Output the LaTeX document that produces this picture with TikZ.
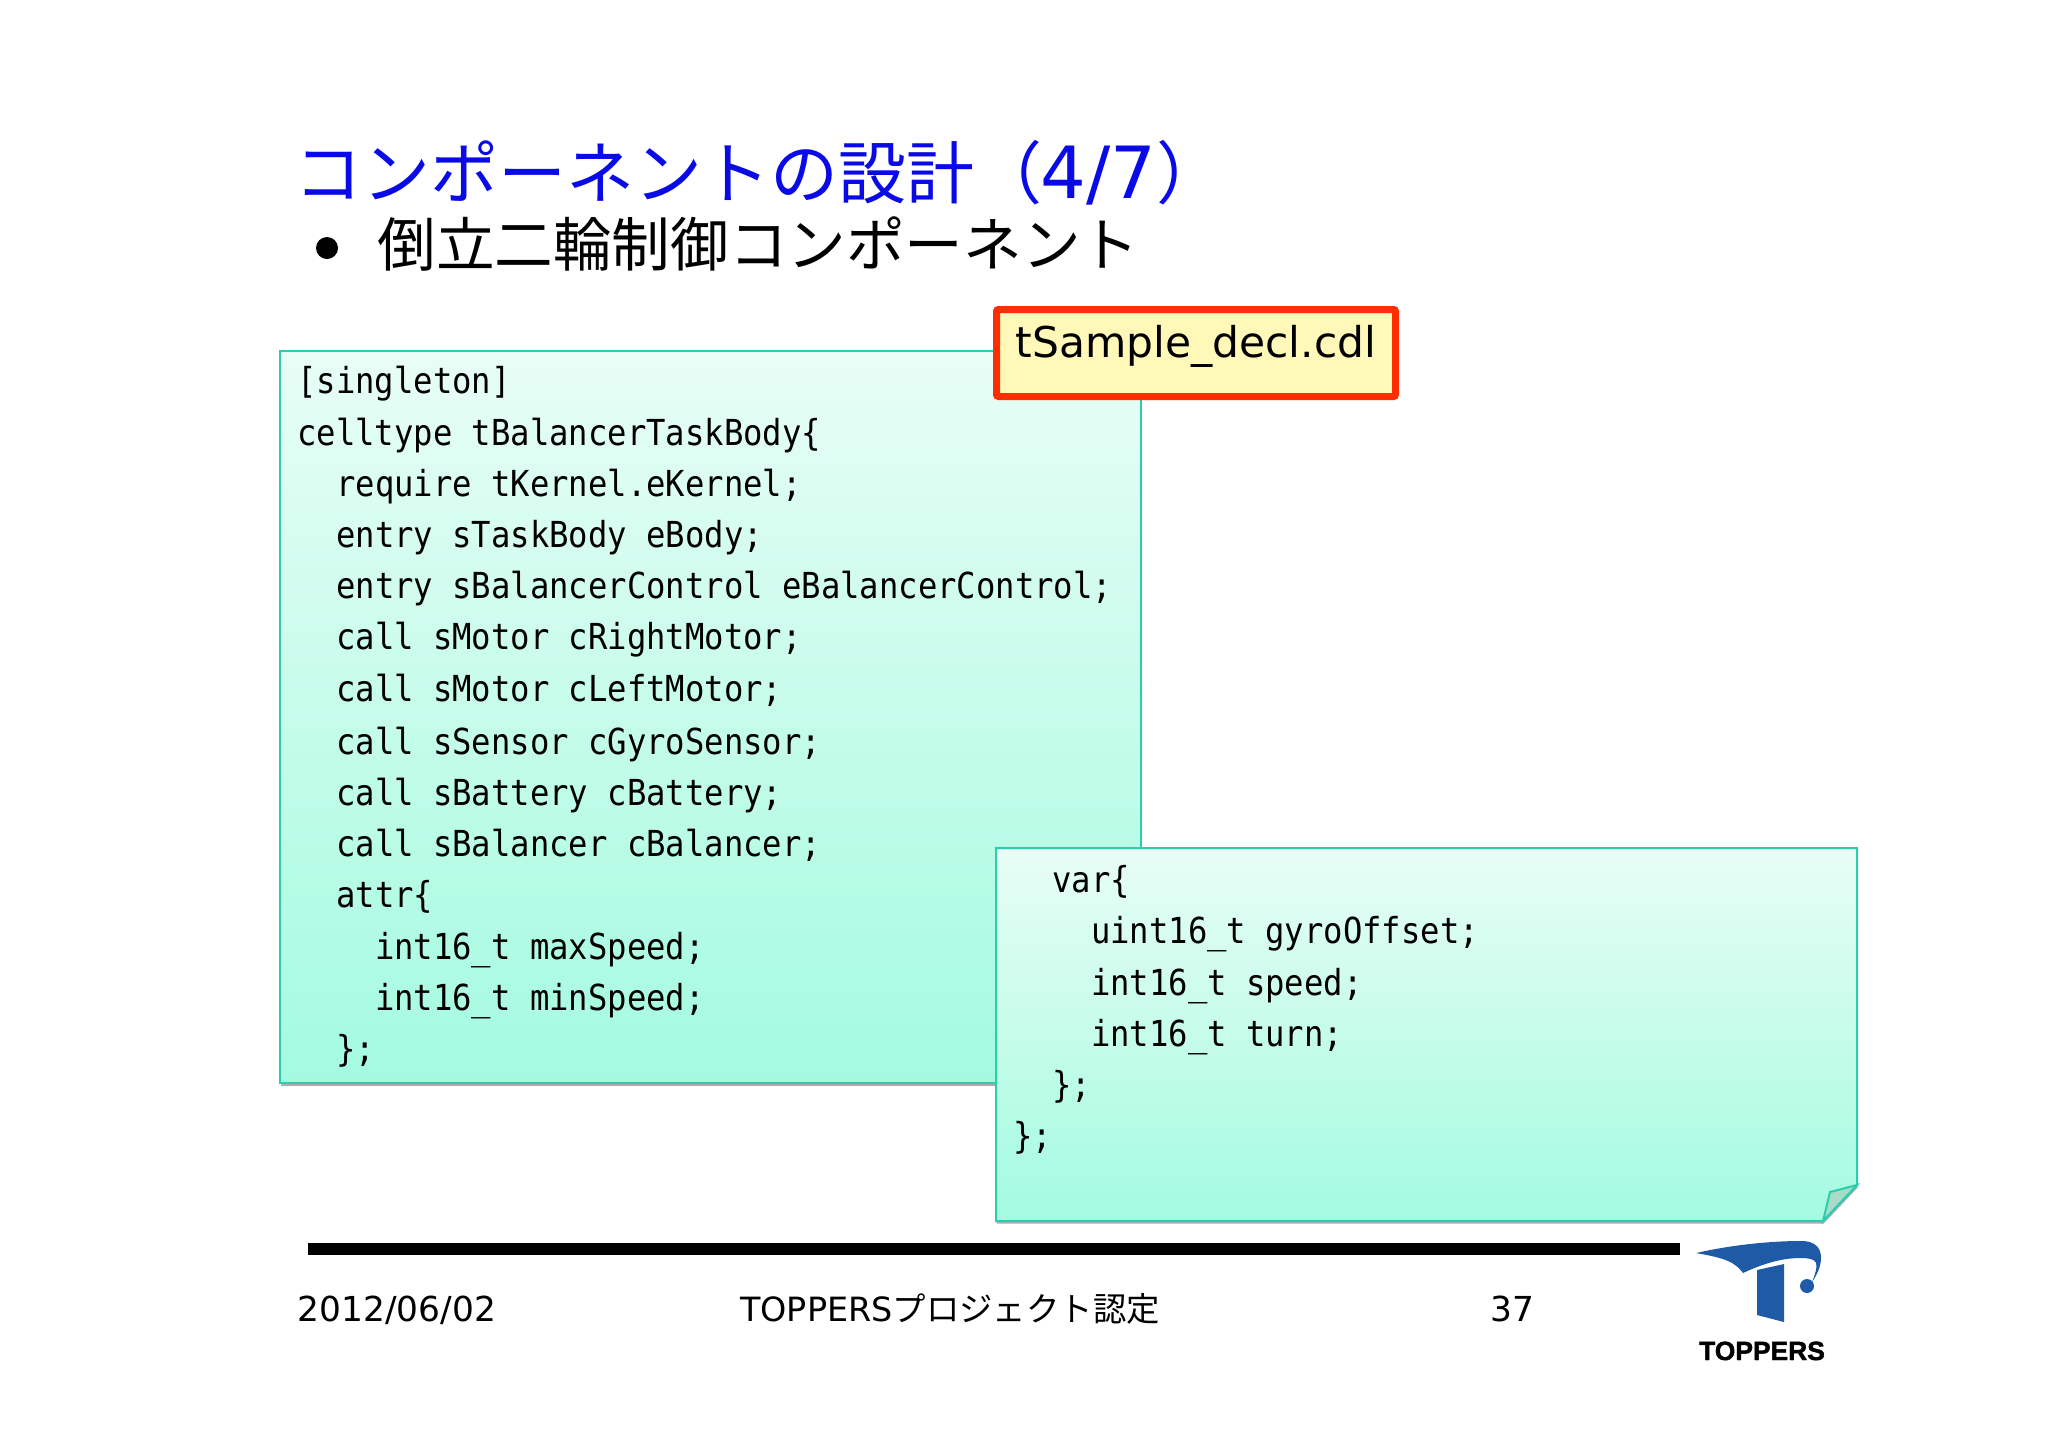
\documentclass[tikz,border=0pt]{standalone}
\usepackage{fontspec}
\setmainfont{DejaVu Sans}
\newfontfamily\jpfont{Noto Sans CJK JP}
\newfontfamily\codefont[FakeStretch=0.9]{DejaVu Sans Mono}
\newfontfamily\logofont[FakeBold=1.6]{Liberation Sans Bold}
\definecolor{TitleBlue}{HTML}{0A0AE6}
\definecolor{BoxEdge}{HTML}{2CCDAE}
\definecolor{BoxTop}{HTML}{E8FDF6}
\definecolor{BoxBottom}{HTML}{A3FBDF}
\definecolor{FoldFill}{HTML}{A6DCC8}
\definecolor{LogoBlue}{HTML}{1F5AA6}
\definecolor{NoteRed}{HTML}{FF2E00}
\definecolor{NoteFill}{HTML}{FFF8B8}
\tikzset{
    BoxShadow/.style = {preaction={fill=black!32,transform canvas={xshift=0.3pt,yshift=-1.3pt}}},
    CodeBox/.style = {BoxShadow,draw=BoxEdge,line width=1pt,top color=BoxTop,bottom color=BoxBottom},
    CodeText/.style = {anchor=north west,inner sep=0pt,align=left,
        font=\codefont\fontsize{17.9}{25.6}\selectfont},
    FootText/.style = {anchor=base,inner sep=0pt,font=\fontsize{17.2}{20}\selectfont}
}
\newcommand{\Ind}[1]{\hspace*{#1em}}
\begin{document}
\begin{tikzpicture}[x=0.5pt,y=-0.5pt]
        \useasboundingbox (0,0) rectangle (2048,1447);
        \node[anchor=base west,inner sep=0pt,text=TitleBlue,font=\fontsize{34}{40}\selectfont] (title) at (294,198)
            {{\jpfont コンポーネントの設計（}\hspace{-1pt}{\fontsize{36}{40}\selectfont 4/7}{\jpfont ）}};
        \node[anchor=center,inner sep=0pt,circle,fill=black,minimum size=11pt] (bullet) at (327,248) {};
        \node[anchor=base west,inner sep=0pt,font=\jpfont\fontsize{29.3}{34}\selectfont] (subtitle) at (377,266)
            {倒立二輪制御コンポーネント};
        % left code box
        \node[CodeBox,anchor=north west,inner sep=0pt,minimum width=430.5pt,minimum height=366pt] (declbox) at (279,350) {};
        \node[CodeText] (decltext) at (297,366)
            {[singleton]\\
             celltype tBalancerTaskBody\{\\
             \Ind{1.084}require tKernel.eKernel;\\
             \Ind{1.084}entry sTaskBody eBody;\\
             \Ind{1.084}entry sBalancerControl eBalancerControl;\\
             \Ind{1.084}call sMotor cRightMotor;\\
             \Ind{1.084}call sMotor cLeftMotor;\\[1pt]
             \Ind{1.084}call sSensor cGyroSensor;\\
             \Ind{1.084}call sBattery cBattery;\\
             \Ind{1.084}call sBalancer cBalancer;\\
             \Ind{1.084}attr\{\\
             \Ind{2.168}int16\_t maxSpeed;\\
             \Ind{2.168}int16\_t minSpeed;\\
             \Ind{1.084}\};};
        % file name tag
        \node[BoxShadow,draw=NoteRed,fill=NoteFill,line width=3.5pt,rounded corners=1pt,anchor=base,inner xsep=0pt,inner ysep=0pt,
            minimum width=199.5pt,text height=23.75pt,text depth=19.75pt,font=\fontsize{21.2}{25}\selectfont] (filetag) at (1196,357)
            {tSample\_decl.cdl};
        % right code box with the bent corner
        \draw[CodeBox] (996,848) -- (1857,848) -- (1857,1185) -- (1823,1221) -- (996,1221) -- cycle;
        \draw[draw=BoxEdge,line width=1pt,fill=FoldFill] (1857,1185) -- (1830,1192) -- (1823,1221) -- cycle;
        \node[CodeText] (vartext) at (1013,865)
            {\Ind{1.084}var\{\\
             \Ind{2.168}uint16\_t gyroOffset;\\
             \Ind{2.168}int16\_t speed;\\
             \Ind{2.168}int16\_t turn;\\
             \Ind{1.084}\};\\
             \};};
        % footer
        \fill (308,1243) rectangle (1680,1255);
        \node[FootText] (datetext) at (397,1321) {2012/06/02};
        \node[FootText,font=\fontsize{16.7}{20}\selectfont] (projtext) at (950,1321) {TOPPERS{\jpfont プロジェクト認定}};
        \node[FootText] (pagetext) at (1512,1321) {37};
        % logo
        \fill[LogoBlue] (1696,1253) .. controls (1740,1243) and (1780,1241) .. (1800,1241)
            .. controls (1825,1240) and (1826,1262) .. (1812,1282)
            .. controls (1820,1262) and (1818,1258) .. (1800,1258)
            .. controls (1780,1258) and (1760,1265) .. (1743,1273)
            .. controls (1735,1262) and (1725,1258) .. (1696,1253) -- cycle;
        \fill[LogoBlue] (1757,1270) -- (1784,1264) -- (1784,1322) -- (1757,1315) -- cycle;
        \fill[LogoBlue] (1807,1286) circle (7);
        \node[anchor=base,inner sep=0pt,font=\logofont\fontsize{13.2}{16}\selectfont] (logotext) at (1762,1360) {TOPPERS};
\end{tikzpicture}
\end{document}
